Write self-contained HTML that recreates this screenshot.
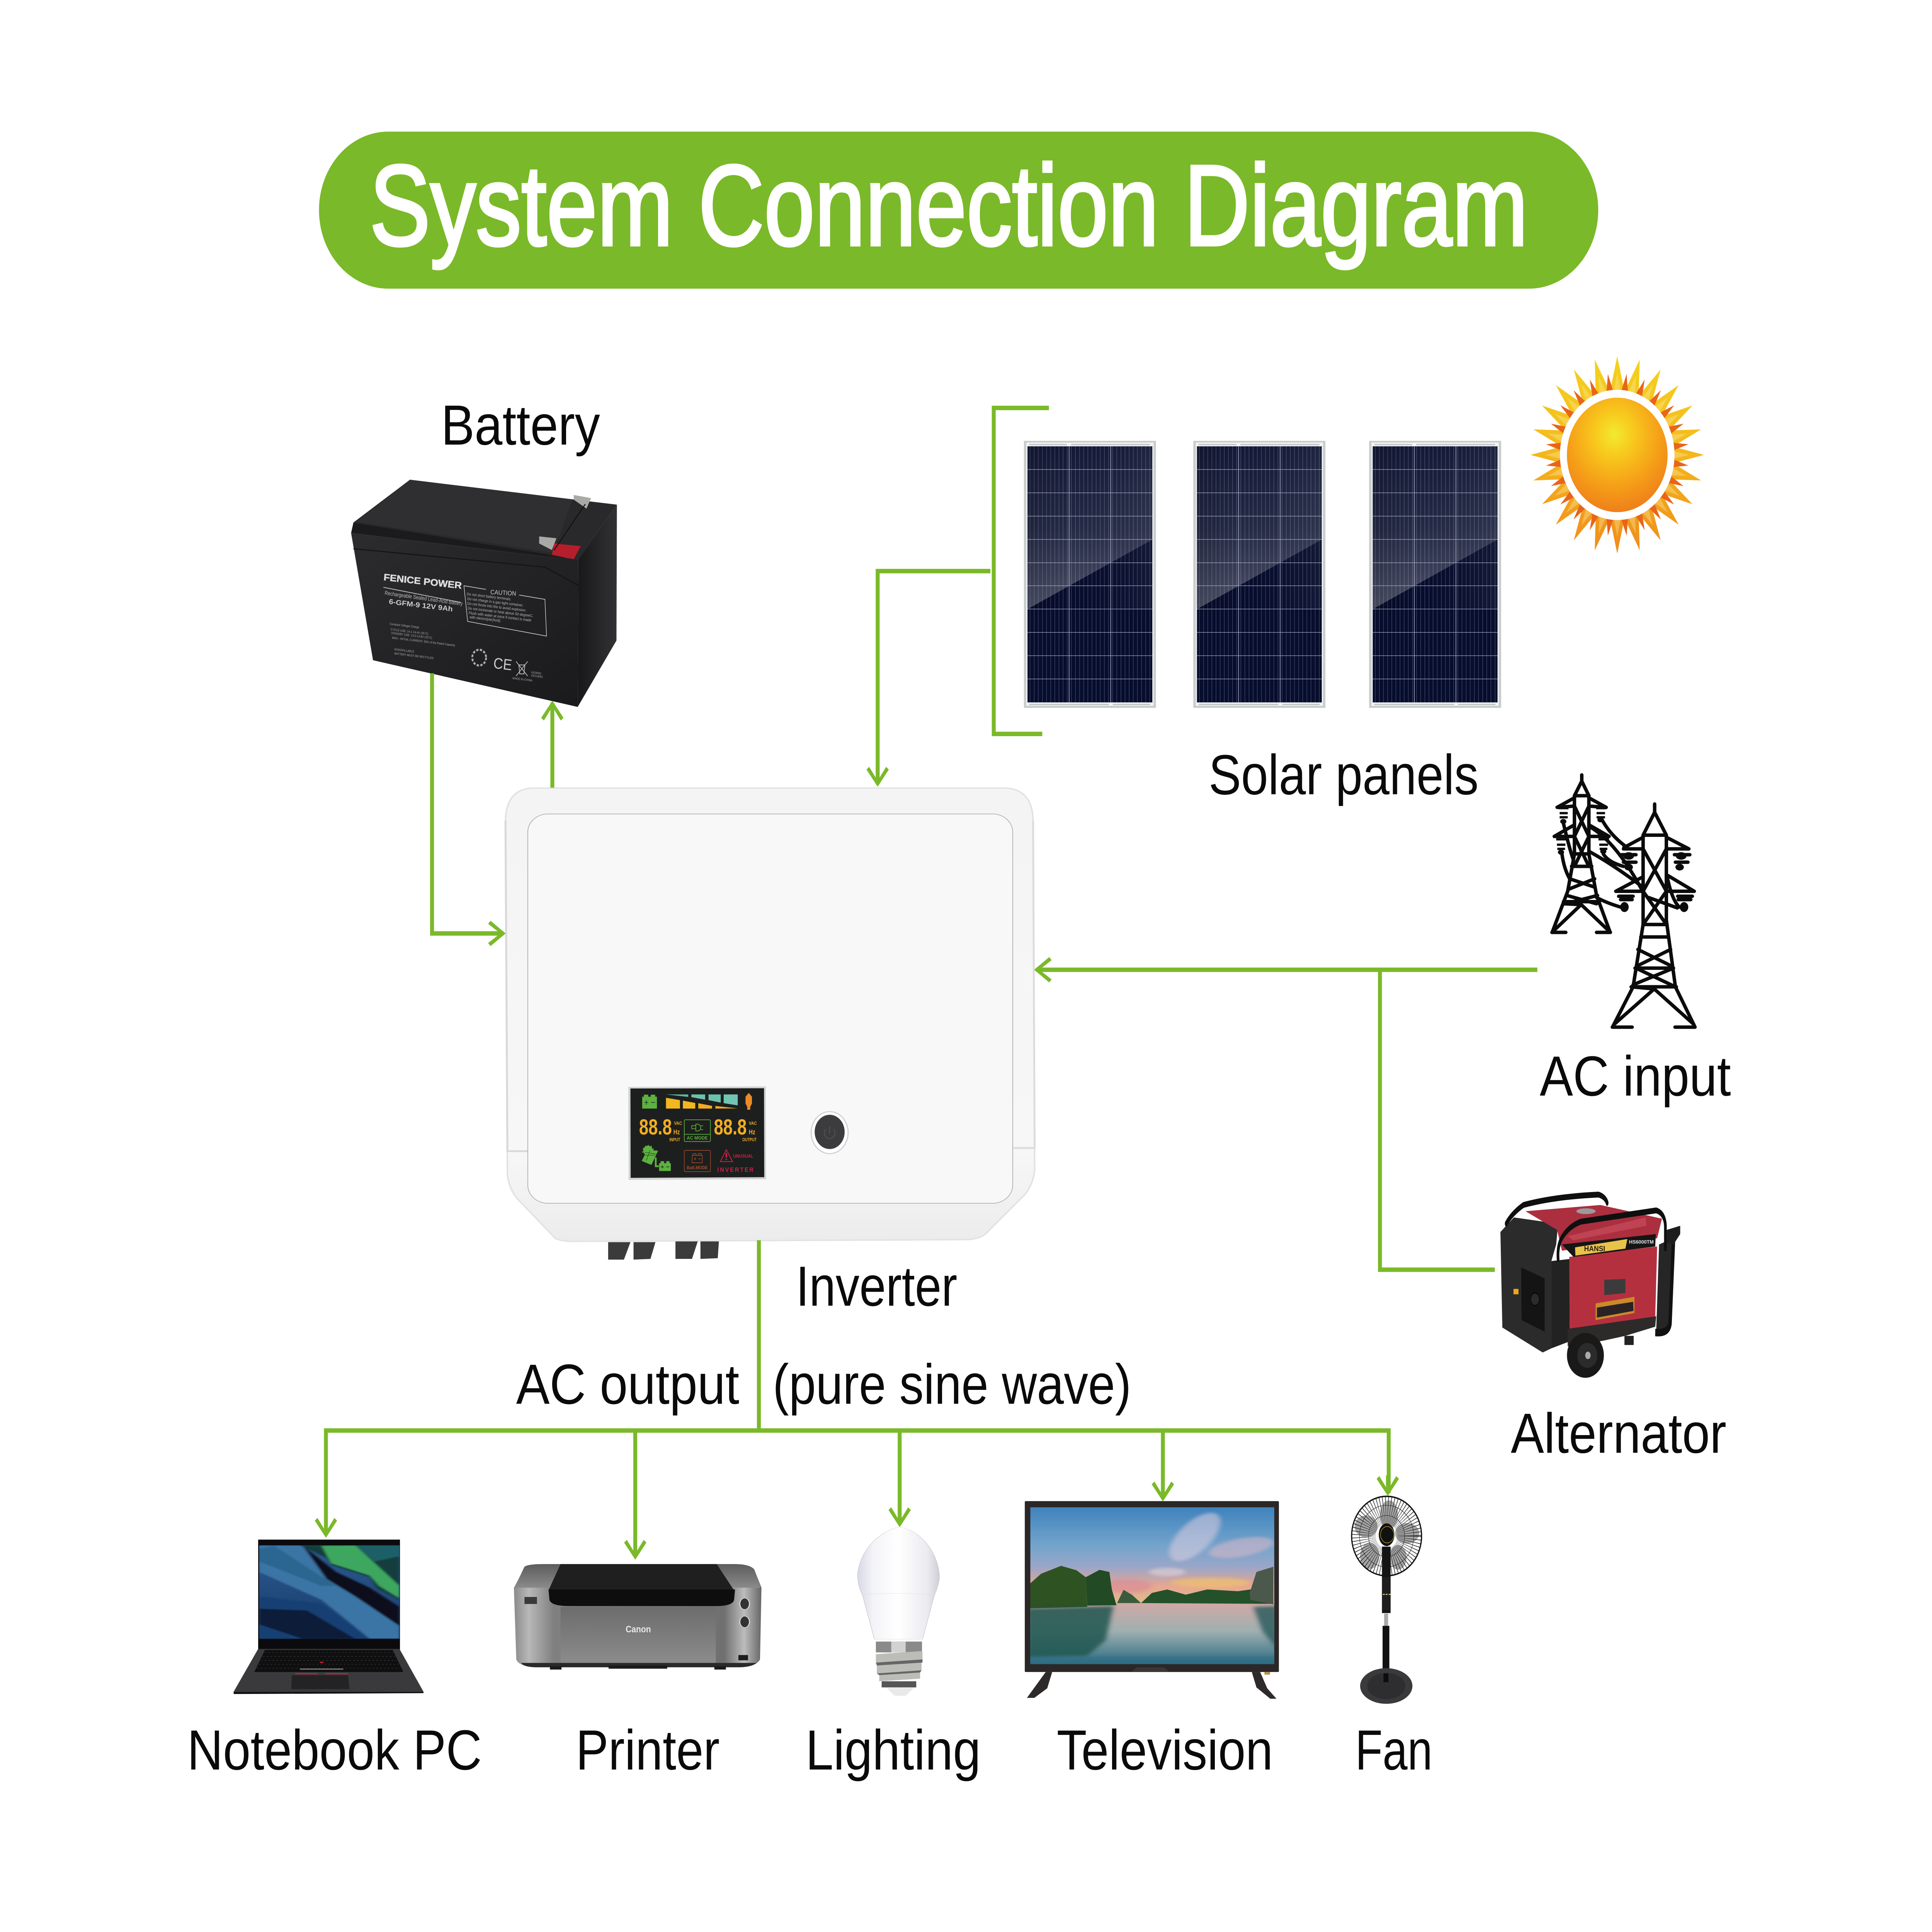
<!DOCTYPE html>
<html><head><meta charset="utf-8"><title>System Connection Diagram</title>
<style>
html,body{margin:0;padding:0;background:#fff;width:100%;height:100%;overflow:hidden}
svg{display:block;width:100vw;height:100vh}
text{font-family:"Liberation Sans",sans-serif}
.lb{font-size:165px;fill:#0a0a0a}
.g{stroke:#7ab929;stroke-width:13;fill:none}
.n{vector-effect:non-scaling-stroke}
.t{fill:none;stroke:#0b0b0b;stroke-width:9;stroke-linejoin:round;stroke-linecap:round}
.t2{fill:none;stroke:#0b0b0b;stroke-width:6}
</style></head><body>
<svg xmlns="http://www.w3.org/2000/svg" viewBox="0 0 6408 5636" preserveAspectRatio="none">
<defs>
<polygon id="ah" fill="#7ab929" points="0,0 -37,-50 -28,-58 -6,-26 -6,-60 6,-60 6,-26 28,-58 37,-50"/>
<pattern id="strip" width="13.7" height="40" patternUnits="userSpaceOnUse"><rect width="13.7" height="40" fill="none"/><rect x="6" width="1.4" height="40" fill="#8e96b5" opacity=".5"/></pattern>
<linearGradient id="refl" x1="0" y1="0" x2="0" y2="1"><stop offset="0" stop-color="#fff" stop-opacity=".05"/><stop offset=".5" stop-color="#fff" stop-opacity=".12"/><stop offset="1" stop-color="#fff" stop-opacity=".28"/></linearGradient>
<linearGradient id="refl2" x1="0" y1="0" x2="1" y2="0"><stop offset="0" stop-color="#000" stop-opacity=".12"/><stop offset=".35" stop-color="#000" stop-opacity="0"/><stop offset="1" stop-color="#fff" stop-opacity=".05"/></linearGradient>
<g id="panel">
<rect width="438" height="779" fill="#c9cdcd"/>
<rect x="8" y="5" width="422" height="768" fill="#f3f4f4"/>
<rect x="17" y="9" width="126" height="4" fill="#c2c6c6"/><rect x="156" y="9" width="262" height="4" fill="#c2c6c6"/>
<rect x="17" y="767" width="265" height="4" fill="#c2c6c6"/><rect x="295" y="767" width="124" height="4" fill="#c2c6c6"/>
<rect x="12" y="16" width="414" height="747" fill="#070d2c"/>
<rect x="12" y="16" width="414" height="747" fill="url(#strip)"/>
<polygon points="12,16 426,16 426,288 12,491" fill="url(#refl)"/>
<rect x="12" y="16" width="414" height="475" fill="url(#refl2)"/>
<g fill="#a8aec4">
<rect x="12" y="83" width="414" height="1.4"/><rect x="12" y="151" width="414" height="1.4"/><rect x="12" y="219" width="414" height="1.4"/><rect x="12" y="287" width="414" height="1.4"/><rect x="12" y="355" width="414" height="1.4"/><rect x="12" y="422" width="414" height="1.4"/><rect x="12" y="490" width="414" height="1.4"/><rect x="12" y="558" width="414" height="1.4"/><rect x="12" y="626" width="414" height="1.4"/><rect x="12" y="694" width="414" height="1.4"/>
<rect x="149" y="16" width="2" height="747"/><rect x="287" y="16" width="2" height="747"/></g>
</g>
<linearGradient id="sunG" x1="0" y1="0" x2="0" y2="1"><stop offset="0" stop-color="#f3d31f"/><stop offset=".45" stop-color="#f4bb1c"/><stop offset="1" stop-color="#ef8a1c"/></linearGradient>
<radialGradient id="disk" cx=".47" cy=".32" r=".72"><stop offset="0" stop-color="#f2ea2e"/><stop offset=".3" stop-color="#f8c51c"/><stop offset=".65" stop-color="#f59d18"/><stop offset="1" stop-color="#ee7a1b"/></radialGradient>
<polygon id="r1" points="0,-288 -30,-160 30,-160"/>
<g id="r3"><use href="#r1"/><use href="#r1" transform="rotate(15)"/><use href="#r1" transform="rotate(30)"/><use href="#r1" transform="rotate(45)"/></g>
<g id="r24"><use href="#r3"/><use href="#r3" transform="rotate(60)"/><use href="#r3" transform="rotate(120)"/><use href="#r3" transform="rotate(180)"/><use href="#r3" transform="rotate(240)"/><use href="#r3" transform="rotate(300)"/></g>
<polygon id="s1" points="0,-238 -17,-160 17,-160"/>
<g id="s3"><use href="#s1"/><use href="#s1" transform="rotate(15)"/><use href="#s1" transform="rotate(30)"/><use href="#s1" transform="rotate(45)"/></g>
<g id="s24"><use href="#s3"/><use href="#s3" transform="rotate(60)"/><use href="#s3" transform="rotate(120)"/><use href="#s3" transform="rotate(180)"/><use href="#s3" transform="rotate(240)"/><use href="#s3" transform="rotate(300)"/></g>
<mask id="rayM" maskUnits="userSpaceOnUse" x="-300" y="-300" width="600" height="600"><use href="#r24" fill="#fff"/></mask>
<linearGradient id="bodyV" x1="0" y1="0" x2="0" y2="1"><stop offset="0" stop-color="#f4f4f4"/><stop offset=".8" stop-color="#f7f7f7"/><stop offset="1" stop-color="#ececec"/></linearGradient>
<linearGradient id="batR" x1="0" y1="0" x2="1" y2="0"><stop offset="0" stop-color="#18181a"/><stop offset="1" stop-color="#323234"/></linearGradient>
<linearGradient id="batF" x1="0" y1="0" x2="1" y2="1"><stop offset="0" stop-color="#2c2c2e"/><stop offset="1" stop-color="#1a1a1c"/></linearGradient>
<linearGradient id="metal" x1="0" y1="0" x2="1" y2="0"><stop offset="0" stop-color="#8a8a8a"/><stop offset=".06" stop-color="#b8b8b8"/><stop offset=".16" stop-color="#808080"/><stop offset=".85" stop-color="#707070"/><stop offset=".93" stop-color="#bcbcbc"/><stop offset="1" stop-color="#666"/></linearGradient>
<linearGradient id="front" x1="0" y1="0" x2="0" y2="1"><stop offset="0" stop-color="#6d6d6d"/><stop offset=".5" stop-color="#7c7c7c"/><stop offset="1" stop-color="#8c8c8c"/></linearGradient>
<linearGradient id="ptop" x1="0" y1="0" x2="0" y2="1"><stop offset="0" stop-color="#5c5c5c"/><stop offset="1" stop-color="#8a8a8a"/></linearGradient>
<linearGradient id="bulb" x1="0" y1="0" x2="1" y2="0"><stop offset="0" stop-color="#d9d9e6"/><stop offset=".2" stop-color="#f4f4f8"/><stop offset=".5" stop-color="#fff"/><stop offset=".85" stop-color="#ebebf0"/><stop offset="1" stop-color="#cfcfd6"/></linearGradient>
<linearGradient id="sky" x1="0" y1="0" x2="0" y2="1"><stop offset="0" stop-color="#3f83bd"/><stop offset=".4" stop-color="#74a4cc"/><stop offset=".62" stop-color="#9aa6c8"/><stop offset=".82" stop-color="#e7a791"/><stop offset="1" stop-color="#dcbd8c"/></linearGradient>
<linearGradient id="water" x1="0" y1="0" x2="0" y2="1"><stop offset="0" stop-color="#cfa9a6"/><stop offset=".45" stop-color="#9fb0b0"/><stop offset="1" stop-color="#2d6c83"/></linearGradient>
<linearGradient id="wall" x1="0" y1="0" x2="0" y2="1"><stop offset="0" stop-color="#2c5c92"/><stop offset="1" stop-color="#173a68"/></linearGradient>
<filter id="b8" x="-30%" y="-30%" width="160%" height="160%"><feGaussianBlur stdDeviation="8"/></filter>
<filter id="b3" x="-10%" y="-10%" width="120%" height="120%"><feGaussianBlur stdDeviation="3"/></filter>
<clipPath id="lapC"><rect x="100" y="408" width="292" height="534"/></clipPath>
<clipPath id="tvC"><rect x="115" y="190" width="793" height="897"/></clipPath>
</defs>

<!-- Title -->
<rect x="1058" y="384" width="4243" height="458" rx="229" fill="#7ab929"/>
<text x="1226" y="715" font-size="335" fill="#fff" stroke="#fff" stroke-width="8" textLength="3842" lengthAdjust="spacingAndGlyphs">System Connection Diagram</text>

<!-- Battery -->
<g transform="translate(1000,1000) scale(.7653)">
<polygon points="470,522 1367,617 1200,825 1060,812 225,685" fill="#29292b"/>
<polygon points="470,522 1175,597 1090,800 240,682" fill="#2f2f31"/>
<polygon points="225,685 215,725 1055,815 1200,830 1060,805" fill="#1b1b1d"/>
<polygon points="215,725 1055,815 1060,812 1200,825 1197,1388 310,1210" fill="url(#batF)"/>
<polygon points="1200,825 1367,617 1365,1135 1197,1388" fill="url(#batR)"/>
<polyline points="225,785 1055,855 1200,925" fill="none" stroke="#141415" stroke-width="4"/>
<polygon points="1095,765 1210,775 1180,825 1085,808" fill="#b51e2a"/>
<polygon points="1030,738 1105,745 1085,790 1030,765" fill="#a9a9a6"/>
<polygon points="1180,580 1255,592 1235,632 1180,598" fill="#a9a9a6"/>
<line x1="1230" y1="615" x2="1095" y2="790" stroke="#111" stroke-width="4"/>
<text x="355" y="905" transform="rotate(5.5 355 905)" font-size="36" font-weight="700" fill="#dcdcdc" textLength="340" lengthAdjust="spacingAndGlyphs" stroke="#dcdcdc" stroke-width="1">FENICE POWER</text>
<line x1="355" y1="932" x2="692" y2="990" stroke="#bbb" stroke-width="3"/>
<text x="360" y="960" transform="rotate(7 360 960)" font-size="21" fill="#bbb" textLength="340" lengthAdjust="spacingAndGlyphs">Rechargeable Sealed Lead-Acid Battery</text>
<text x="378" y="995" transform="rotate(6 378 995)" font-size="27" font-weight="700" fill="#ccc" textLength="278" lengthAdjust="spacingAndGlyphs">6-GFM-9  12V 9Ah</text>
<polygon points="704,926 1055,978 1062,1118 720,1062" fill="none" stroke="#ccc" stroke-width="2.5"/>
<rect x="800" y="925" width="145" height="40" fill="#242426" transform="rotate(3 800 925)"/>
<text x="818" y="958" font-size="24" fill="#ccc" textLength="112" lengthAdjust="spacingAndGlyphs" transform="rotate(3 818 958)">CAUTION</text>
<g font-size="14.5" fill="#bbb">
<text x="716" y="962" transform="rotate(6 716 962)">Do not short battery terminals.</text>
<text x="718" y="980" transform="rotate(6 718 980)">Do not charge in a gas tight container.</text>
<text x="718" y="998" transform="rotate(6 718 998)">Do not throw into fire to avoid explosion.</text>
<text x="720" y="1016" transform="rotate(6 720 1016)">Do not incinerate or heat above 50 degreeC.</text>
<text x="724" y="1034" transform="rotate(6 724 1034)">Flush with water at once if contact is made</text>
<text x="728" y="1050" transform="rotate(6 728 1050)">with electrolyte(Acid).</text>
</g>
<g font-size="11.5" fill="#aaa">
<text x="382" y="1075" transform="rotate(6 382 1075)">Constant Voltage Charge</text>
<text x="386" y="1096" transform="rotate(6 386 1096)">CYCLE USE: 14.1-14.4V (25°C)</text>
<text x="388" y="1110" transform="rotate(6 388 1110)">STANDBY USE: 13.5-13.8V (25°C)</text>
<text x="392" y="1128" transform="rotate(6 392 1128)">MAX.- INITIAL CURRENT: 30% of the Rated Capacity</text>
<text x="402" y="1172" transform="rotate(6 402 1172)">NONSPILLABLE</text>
<text x="402" y="1188" transform="rotate(6 402 1188)">BATTERY MUST BE RECYCLED</text>
<text x="914" y="1282" transform="rotate(6 914 1282)">MADE IN CHINA</text>
<text x="995" y="1260" transform="rotate(6 995 1260)">ISO9001</text>
<text x="995" y="1272" transform="rotate(6 995 1272)">ISO14001</text>
</g>
<text x="830" y="1240" font-size="58" fill="#ccc" transform="rotate(6 830 1240)">CE</text>
<circle cx="770" cy="1200" r="30" fill="none" stroke="#aaa" stroke-width="8" stroke-dasharray="10 6"/>
<path d="M930,1215 L980,1270 M980,1215 L930,1270 M942,1228 H968 L964,1262 H946 Z" fill="none" stroke="#bbb" stroke-width="3"/>
</g>
<text class="lb" x="1463" y="1297" textLength="527" lengthAdjust="spacingAndGlyphs">Battery</text>

<!-- Panels + sun -->
<use href="#panel" x="3396" y="1286"/><use href="#panel" x="3958" y="1286"/><use href="#panel" x="4541" y="1286"/>
<g transform="translate(5364,1327)">
<rect x="-300" y="-300" width="600" height="600" fill="url(#sunG)" mask="url(#rayM)"/>
<use href="#s24" fill="#ffeeb0" opacity=".35"/>
<g transform="rotate(7.5)"><use href="#s24" fill="#e8651a"/></g>
<circle r="190" fill="#fff"/>
<circle r="167" fill="url(#disk)"/>
</g>

<!-- Inverter -->
<g transform="translate(1600,2200) scale(1.2755,1.0204)">
<path d="M130,97 H1360 Q1430,100 1432,190 L1436,1190 Q1432,1230 1410,1260 L1310,1370 Q1295,1386 1260,1388 L230,1393 Q205,1392 190,1385 L90,1270 Q68,1240 65,1200 L60,190 Q62,100 130,97 Z" fill="url(#bodyV)" stroke="#e2e2e2" stroke-width="4"/>
<path d="M60,190 L65,1135 H120" fill="none" stroke="#d8d8d8" stroke-width="5"/>
<path d="M1432,190 L1436,1126 H1380" fill="none" stroke="#dcdcdc" stroke-width="5"/>
<rect x="118" y="171" width="1261" height="1113" rx="52" fill="#f8f8f8" stroke="#b4b4b4" stroke-width="2"/>
<polygon points="327,1395 385,1395 368,1445 327,1445" fill="#3b3b3b"/>
<polygon points="393,1395 450,1395 437,1443 393,1445" fill="#3b3b3b"/>
<polygon points="502,1393 560,1393 545,1443 502,1443" fill="#3b3b3b"/>
<polygon points="567,1393 615,1393 612,1441 567,1443" fill="#3b3b3b"/>
<ellipse cx="903" cy="1082" rx="48" ry="60" fill="#fff" stroke="#cfcfcf" stroke-width="3"/>
<ellipse cx="903" cy="1080" rx="39" ry="49" fill="#3c3c3e"/>
<path d="M893,1072 a14,16 0 1 0 20,0 M903,1064 V1084" fill="none" stroke="#555" stroke-width="2"/>
</g>

<!-- LCD -->
<g transform="translate(2050,3150) scale(.357,.3333)">
<polygon points="95,62 1372,58 1374,870 98,876" fill="#d2d2d2"/>
<polygon points="115,76 1356,74 1358,852 117,858" fill="#1d1f1e"/>
<g fill="#5cb23f">
<path d="M224,148 H240 V130 H280 V148 H304 V130 H345 V148 H361 V252 H224 Z"/>
<path d="M381,730 H395 V712 H428 V730 H448 V712 H478 V730 H490 V798 H381 Z"/>
<polygon points="270,615 372,620 310,745 220,710"/>
<circle cx="278" cy="620" r="44"/>
<polygon points="342,680 358,680 358,748 378,748 378,764 342,764"/>
<g><polygon points="282,565 290,590 274,590"/><polygon points="255,572 270,592 250,598"/><polygon points="310,572 298,592 315,598"/><polygon points="232,592 250,606 232,616"/><polygon points="330,596 316,612 330,618"/><polygon points="224,625 240,632 226,640"/></g>
</g>
<path d="M245,198 H280 M262,180 V218 M308,198 H344 M398,762 H425 M411,750 V776 M448,762 H476" stroke="#1d1f1e" stroke-width="5"/>
<path d="M250,660 L340,660 M296,618 L262,706 M248,635 L355,650" stroke="#1d1f1e" stroke-width="3"/>
<polygon points="445,128 652,128 652,150" fill="#5fb7a0"/>
<polygon points="681,128 809,128 809,174 681,152" fill="#6cc0ad"/>
<polygon points="840,128 954,128 954,200 840,178" fill="#6cc0ad"/>
<polygon points="981,128 1112,128 1112,224 981,204" fill="#72c4b3"/>
<polygon points="445,157 575,178 575,252 445,252" fill="#f3b81f"/>
<polygon points="602,182 717,203 717,252 602,252" fill="#f3b81f"/>
<polygon points="745,205 873,228 873,252 745,252" fill="#f3a91f"/>
<polygon points="904,229 1112,250 904,252" fill="#f3a91f"/>
<path d="M1200,130 L1214,114 L1228,130 L1244,148 V208 L1228,236 V262 H1200 V236 L1184,208 V148 Z" fill="#ec8a24"/>
<g fill="#f3ad22" font-weight="700">
<text x="195" y="478" font-size="190" textLength="305" lengthAdjust="spacingAndGlyphs">88.8</text>
<text x="890" y="478" font-size="190" textLength="305" lengthAdjust="spacingAndGlyphs">88.8</text>
<text x="520" y="394" font-size="42" textLength="74" lengthAdjust="spacingAndGlyphs">VAC</text>
<text x="1215" y="394" font-size="42" textLength="74" lengthAdjust="spacingAndGlyphs">VAC</text>
<text x="514" y="476" font-size="60" textLength="60" lengthAdjust="spacingAndGlyphs">Hz</text>
<text x="1215" y="476" font-size="60" textLength="60" lengthAdjust="spacingAndGlyphs">Hz</text>
<text x="477" y="538" font-size="40" textLength="100" lengthAdjust="spacingAndGlyphs">INPUT</text>
<text x="1155" y="538" font-size="40" textLength="132" lengthAdjust="spacingAndGlyphs">OUTPUT</text>
</g>
<rect x="615" y="350" width="243" height="190" rx="10" fill="none" stroke="#5cb23f" stroke-width="6"/>
<line x1="615" y1="477" x2="858" y2="477" stroke="#5cb23f" stroke-width="6"/>
<path d="M722,402 H684 V428 H722 M722,388 H745 Q768,400 768,420 Q768,440 745,448 H722 Z M768,402 H790 M768,436 H790" fill="none" stroke="#5cb23f" stroke-width="6"/>
<text x="638" y="522" font-size="42" font-weight="700" fill="#5cb23f" textLength="195" lengthAdjust="spacingAndGlyphs">AC MODE</text>
<rect x="615" y="618" width="243" height="186" rx="8" fill="none" stroke="#a5502e" stroke-width="5"/>
<path d="M688,662 H782 V726 H688 Z M696,662 V646 H724 V662 M746,662 V646 H774 V662 M704,692 H726 M715,681 V703 M746,692 H770" fill="none" stroke="#a5502e" stroke-width="5"/>
<text x="638" y="782" font-size="40" fill="#a5502e" font-weight="700" textLength="195" lengthAdjust="spacingAndGlyphs">Batt.MODE</text>
<polygon points="1006,612 1064,716 950,716" fill="none" stroke="#d21f4a" stroke-width="7"/>
<path d="M1006,640 V682 M1006,692 V702" stroke="#d21f4a" stroke-width="14"/>
<text x="1070" y="682" font-size="40" font-weight="700" fill="#d21f4a" textLength="186" lengthAdjust="spacingAndGlyphs">UNUSUAL</text>
<text x="922" y="804" font-size="52" font-weight="700" fill="#d21f4a" textLength="336" lengthAdjust="spacing">INVERTER</text>
</g>

<!-- Towers -->
<g transform="translate(4900,2200) scale(.6378,1.2121)">
<path class="t n" d="M543,50 V65 L505,100 V240 L470,330 L390,428 M543,65 L580,100 V240 L620,340 L690,428"/>
<path class="t n" d="M388,429 H460 M620,429 H692 M505,100 H580 M505,125 L415,128 L505,105 M580,125 L670,128 L580,105 M505,198 L400,198 L505,170 M580,198 L685,198 L580,170 M505,240 H580 M505,125 L580,198 M580,125 L505,198 M505,198 L580,270 M580,198 L505,270 M490,270 H595 M480,300 L610,320 M610,300 L475,325 M465,340 L620,360 M625,340 L460,360 M448,355 H635 M448,360 L540,362 L390,428 M540,362 L690,428"/>
<path class="t2 n" d="M422,130 H474 M428,142 H470 M428,152 H470 M618,130 H670 M620,142 H664 M620,152 H664 M410,205 H462 M414,218 H458 M416,228 H456 M630,205 H685 M634,218 H680 M636,228 H676"/>
<g fill="#0b0b0b"><ellipse cx="447" cy="162" rx="16" ry="6"/><ellipse cx="640" cy="158" rx="16" ry="6"/><ellipse cx="435" cy="236" rx="16" ry="6"/><ellipse cx="655" cy="234" rx="16" ry="6"/></g>
<path class="t n" d="M645,155 Q690,195 780,225 M447,165 Q480,230 500,255 M440,240 Q450,275 480,300 M655,240 Q680,260 760,270 M585,175 Q720,210 860,330 M585,235 Q720,270 860,320 M620,345 Q680,360 760,370"/>
<path class="t n" d="M922,120 V140 L862,195 V410 L810,560 L705,655 M922,140 L983,195 V400 L1030,560 L1130,655 M702,657 H805 M1028,657 H1132"/>
<path class="t n" d="M862,195 H983 M862,200 L762,225 M862,228 H760 M983,200 L1100,228 M983,228 H1100 M862,295 L720,330 M862,330 H720 M983,290 L1128,330 M983,330 H1128 M862,228 L983,330 M983,228 L862,330 M862,330 L983,410 M983,330 L862,410 M862,410 H983 M850,440 H995 M835,470 L1010,510 M1005,470 L830,510 M820,515 H1020 M1020,515 L810,555 M825,515 L1030,560 M800,560 H1035 M800,560 L920,565 L712,650 M920,565 L1125,650"/>
<path class="t n" d="M760,260 H825 M1030,260 H1095 M745,350 H805 M1045,350 H1110 M750,242 H825 M1025,242 H1105 M735,342 H810 M1042,342 H1118"/>
<g fill="#0b0b0b"><ellipse cx="787" cy="245" rx="28" ry="9"/><ellipse cx="787" cy="272" rx="22" ry="8"/><ellipse cx="1060" cy="245" rx="28" ry="9"/><ellipse cx="1052" cy="272" rx="22" ry="8"/><ellipse cx="765" cy="368" rx="22" ry="12"/><ellipse cx="1075" cy="368" rx="22" ry="12"/></g>
<path class="t n" d="M985,290 Q1010,350 1050,368 M890,345 L1040,370"/>

<!-- Generator -->
<polygon points="120,1150 190,1115 420,1130 410,1180 385,1220 385,1430 340,1440 130,1380" fill="#2b2b2c"/>
<polygon points="385,1220 480,1215 480,1385 470,1415 385,1430" fill="#222"/>
<polygon points="250,1100 640,1085 960,1118 935,1165 440,1195 415,1145" fill="#ab2f3f"/>
<polygon points="470,1160 875,1115 880,1135 500,1170" fill="#bf4352"/>
<ellipse cx="565" cy="1100" rx="50" ry="7" fill="#9a9a9a"/>
<polygon points="478,1210 935,1185 925,1355 480,1385" fill="#b5303f"/>
<polygon points="470,1383 930,1353 925,1378 770,1400 650,1412 470,1425" fill="#2d2a2a"/>
<polygon points="440,1180 928,1155 925,1185 500,1210" fill="#151515"/>
<polygon points="508,1187 780,1167 770,1190 510,1207" fill="#e8c34a"/>
<polygon points="228,1235 350,1262 350,1390 230,1362" fill="#141414"/>
<ellipse cx="300" cy="1312" rx="22" ry="15" fill="#2b2b2c" stroke="#000" stroke-width="2"/>
<rect x="188" y="1287" width="26" height="13" fill="#eaa81d"/>
<polygon points="660,1265 770,1263 770,1297 660,1302" fill="#3b3b3b"/>
<polygon points="615,1322 817,1306 817,1345 615,1362" fill="#c98a28"/>
<polygon points="622,1332 810,1318 812,1340 622,1356" fill="#2b2225"/>
<polygon points="945,1180 1020,1165 1005,1375 960,1395 930,1390" fill="#262626"/>
<path d="M150,1130 Q180,1105 240,1085 Q400,1065 630,1060 Q665,1065 675,1080 M420,1215 Q415,1180 445,1160 Q480,1135 540,1125 L930,1098 Q975,1105 978,1135 L978,1190" fill="none" stroke="#0f0f0f" stroke-width="14" stroke-linecap="round"/>
<path d="M1020,1170 L1002,1370 Q995,1395 925,1392" fill="none" stroke="#111" stroke-width="18"/>
<polygon points="985,1145 1055,1135 1055,1155 1020,1180 985,1175" fill="#1d1d1d"/>
<ellipse cx="562" cy="1447" rx="96" ry="54" fill="#191919"/>
<ellipse cx="572" cy="1447" rx="52" ry="30" fill="#2b2b2b"/>
<ellipse cx="575" cy="1447" rx="14" ry="9" fill="#aaa"/>
<rect x="765" y="1400" width="48" height="22" fill="#222"/>
</g>
<text x="5254" y="3650" font-size="22" font-family="Liberation Serif" font-weight="700" fill="#2a1a10" textLength="70" lengthAdjust="spacingAndGlyphs">HANSI</text>
<text x="5403" y="3628" font-size="15" font-weight="700" fill="#e8e8e8" textLength="82" lengthAdjust="spacingAndGlyphs">HS6000TM</text>

<!-- Laptop -->
<g transform="translate(700,4300) scale(1.5944,.5102)">
<rect x="98" y="375" width="295" height="630" fill="#0b0b0d"/>
<rect x="100" y="408" width="292" height="534" fill="url(#wall)"/>
<g clip-path="url(#lapC)"><g filter="url(#b3)">
<polygon points="100,408 190,408 300,700 392,860 392,942 330,942 230,720 100,560" fill="#3a75a5"/>
<polygon points="100,430 130,408 260,640 230,640 100,500" fill="#2c6690"/>
<polygon points="190,408 260,560 330,650 392,760 392,870 300,700 240,600" fill="#08111f"/>
<polygon points="185,408 392,408 392,720 345,655 330,590 250,520 240,480" fill="#123c3c"/>
<polygon points="230,410 300,408 392,640 392,710 350,640 330,580 250,510" fill="#3ea75e"/>
<polygon points="300,408 392,408 392,470 340,500" fill="#1b5e66"/>
<polygon points="100,700 230,740 330,942 100,942" fill="#153f73"/>
<polygon points="100,770 200,780 300,942 190,942 100,860" fill="#0d1e39"/>
</g></g>
<polygon points="98,1000 392,1000 442,1245 47,1245" fill="#3a3a3c"/>
<polygon points="47,1245 442,1245 442,1253 47,1258" fill="#111"/>
<polygon points="112,1006 378,1006 400,1132 90,1132" fill="#0f0f10"/>
<g stroke="#6a6a6a" stroke-width="1.5" stroke-dasharray="3 5" fill="none">
<line x1="112" y1="1020" x2="378" y2="1020"/><line x1="108" y1="1043" x2="382" y2="1043"/><line x1="104" y1="1066" x2="386" y2="1066"/><line x1="100" y1="1088" x2="390" y2="1088"/><line x1="96" y1="1110" x2="394" y2="1110"/>
</g>
<rect x="185" y="1112" width="90" height="7" fill="#777"/>
<circle cx="230" cy="1077" r="4" fill="#d61f2c"/>
<rect x="175" y="1139" width="47" height="6" fill="#c9202c"/><rect x="238" y="1139" width="47" height="6" fill="#c9202c"/>
<polygon points="168,1150 285,1150 288,1230 167,1230" fill="#232325"/>
</g>

<!-- Printer -->
<g transform="translate(700,4300) scale(1.5944,.5102)">
<path d="M630,650 Q640,600 650,540 Q660,515 690,515 H1090 Q1120,515 1130,545 L1145,650 L1142,1060 Q1135,1100 1100,1105 H675 Q640,1100 635,1060 Z" fill="url(#metal)"/>
<path d="M652,530 Q660,515 690,515 H1090 Q1120,515 1130,545 L1143,650 H632 Z" fill="url(#ptop)"/>
<polygon points="727,515 1052,515 1088,665 702,665" fill="#1f1f20"/>
<path d="M702,660 H1090 L1088,720 Q1085,755 1050,755 H745 Q708,755 704,720 Z" fill="#0e0e0f"/>
<rect x="727" y="760" width="323" height="325" fill="url(#front)"/>
<rect x="652" y="703" width="26" height="40" fill="#3a3a3a"/>
<ellipse cx="1110" cy="742" rx="10" ry="32" fill="#333" stroke="#ddd" stroke-width="2"/>
<ellipse cx="1110" cy="845" rx="10" ry="32" fill="#333" stroke="#ddd" stroke-width="2"/>
<rect x="1097" y="1035" width="20" height="30" fill="#1c1c1c"/>
<path d="M645,1080 H1135 Q1125,1103 1100,1105 H675 Q650,1103 645,1080 Z" fill="#2a2a2a"/>
<rect x="827" y="1095" width="122" height="18" fill="#1a1a1a"/>
<rect x="705" y="1100" width="24" height="18" fill="#1a1a1a"/><rect x="1047" y="1100" width="24" height="18" fill="#1a1a1a"/>
</g>
<text x="2075" y="4762" font-size="27" font-weight="700" fill="#e8e8e8" textLength="84" lengthAdjust="spacingAndGlyphs">Canon</text>

<!-- Bulb -->
<g transform="translate(700,4300) scale(1.5944,.5102)">
<path d="M1432,303 Q1470,320 1495,420 Q1516,510 1515,600 Q1512,650 1505,690 L1480,945 H1380 L1355,690 Q1345,640 1345,570 Q1350,460 1380,380 Q1405,315 1432,303 Z" fill="url(#bulb)" stroke="#c5c5cc" stroke-width="1"/>
<path d="M1352,690 Q1430,675 1508,690" fill="none" stroke="#e0e0e6" stroke-width="2"/>
<rect x="1383" y="958" width="96" height="62" fill="#8a8a8a"/><rect x="1415" y="958" width="30" height="62" fill="#d2d2d2"/>
<g fill="#bdbdb8"><polygon points="1383,1030 1480,1012 1480,1060 1383,1078"/><polygon points="1385,1095 1478,1078 1478,1122 1385,1140"/><polygon points="1390,1150 1475,1135 1475,1170 1390,1185"/></g>
<g fill="#666"><polygon points="1383,1078 1480,1060 1480,1078 1385,1095"/><polygon points="1385,1140 1478,1122 1475,1135 1390,1150"/></g>
<rect x="1395" y="1185" width="72" height="35" fill="#555"/>
<polygon points="1405,1222 1462,1222 1445,1268 1422,1268" fill="#e9e9e9"/>
</g>

<!-- TV -->
<g transform="translate(3300,4300) scale(1.0204,.5102)">
<rect x="97" y="155" width="826" height="977" rx="4" fill="#2b2727"/>
<g clip-path="url(#tvC)">
<rect x="115" y="190" width="793" height="552" fill="url(#sky)"/>
<rect x="115" y="742" width="793" height="345" fill="url(#water)"/>
<g filter="url(#b8)" opacity=".55"><ellipse cx="650" cy="360" rx="60" ry="150" fill="#e0cfe0" transform="rotate(25 650 360)"/><ellipse cx="800" cy="420" rx="110" ry="50" fill="#dcb8c8" transform="rotate(-20 800 420)"/><ellipse cx="700" cy="620" rx="130" ry="28" fill="#f6c860"/><ellipse cx="560" cy="560" rx="60" ry="24" fill="#e6d8dc"/><ellipse cx="430" cy="640" rx="80" ry="40" fill="#d88898"/></g>
<polygon points="115,625 150,570 215,525 265,550 295,590 300,760 115,768" fill="#2f5222"/>
<polygon points="295,590 340,548 372,560 380,660 395,750 300,752" fill="#214a25"/>
<polygon points="397,738 418,662 445,690 475,738" fill="#3b5b3d"/>
<polygon points="475,738 510,680 560,660 620,690 690,660 790,670 830,660 905,650 905,742" fill="#24502a"/>
<polygon points="828,680 850,560 905,530 905,745 830,720" fill="#4b584c"/>
<g filter="url(#b8)">
<polygon points="105,768 385,755 360,950 300,1040 105,1045" fill="#1e5650" opacity=".85"/>
<polygon points="840,760 918,755 918,1000 870,900" fill="#24575a" opacity=".8"/>
<rect x="105" y="1045" width="813" height="50" fill="#2d6c83" opacity=".6"/>
</g>
</g>
<path d="M460,1105 H550 L565,1130 H445 Z" fill="#3c3737"/>
<path d="M165,1132 H186 L170,1225 L128,1280 H104 Z" fill="#2e2a2a"/>
<path d="M835,1132 H862 L885,1225 L915,1285 H895 L850,1220 Z" fill="#2e2a2a"/>
<rect x="876" y="1132" width="18" height="15" fill="#b89048"/>
</g>

<!-- Fan -->
<g transform="translate(4599,4481)">
<g fill="#a6a6a6"><ellipse cx="8" cy="-62" rx="30" ry="42"/><ellipse cx="68" cy="-8" rx="40" ry="30"/><ellipse cx="-68" cy="-28" rx="38" ry="32"/><ellipse cx="-56" cy="58" rx="32" ry="38"/><ellipse cx="38" cy="62" rx="28" ry="36"/></g>
<circle r="75" fill="none" stroke="#161616" stroke-width="78" stroke-dasharray="1.5 5.5" opacity=".85"/>
<circle r="116" fill="none" stroke="#111" stroke-width="4"/>
<circle r="90" fill="none" stroke="#333" stroke-width="1.5"/>
<circle r="60" fill="none" stroke="#333" stroke-width="1.5"/>
<ellipse cx="0" cy="-4" rx="26" ry="33" fill="#111"/>
<ellipse cx="2" cy="-4" rx="22" ry="24" fill="#111" stroke="#d6b024" stroke-width="1.5"/>
</g>
<g transform="translate(3300,4300) scale(1.0204,.5102)">
<rect x="1258" y="415" width="28" height="380" fill="#141414"/>
<rect x="1260" y="590" width="26" height="190" fill="#1e1e1e"/>
<g fill="#d8c98c"><circle cx="1264" cy="688" r="3.5"/><circle cx="1273" cy="688" r="3.5"/><circle cx="1283" cy="688" r="3.5"/></g>
<rect x="1265" y="798" width="13" height="70" fill="#aaa"/>
<rect x="1260" y="868" width="22" height="320" fill="#111"/>
<ellipse cx="1272" cy="1212" rx="85" ry="102" fill="#3a3a3c"/>
<ellipse cx="1272" cy="1212" rx="62" ry="75" fill="#2e2e30"/>
<rect x="1263" y="1140" width="16" height="50" fill="#0c0c0c"/>
</g>

<!-- Connectors -->
<g class="g">
<path d="M1433,1964 V2723 H1670"/>
<path d="M1832,2050 V2298"/>
<path d="M3479,1190 H3296 V2141 H3457"/>
<path d="M3285,1666 H2911 V2288"/>
<path d="M5099,2829 H3436"/>
<path d="M4577,2829 V3704 H4958"/>
<path d="M2517,3618 V4173"/>
<path d="M1081,4478 V4173 H4606 V4356"/>
<path d="M2107,4173 V4542"/>
<path d="M2984,4173 V4447"/>
<path d="M3857,4173 V4372"/>
</g>
<use href="#ah" transform="translate(1832,2044) rotate(180)"/>
<use href="#ah" transform="translate(1677,2723) rotate(-90)"/>
<use href="#ah" transform="translate(2911,2295)"/>
<use href="#ah" transform="translate(3430,2829) rotate(90)"/>
<use href="#ah" transform="translate(1081,4486)"/>
<use href="#ah" transform="translate(2107,4550)"/>
<use href="#ah" transform="translate(2984,4455)"/>
<use href="#ah" transform="translate(3857,4380)"/>
<use href="#ah" transform="translate(4603,4364)"/>

<!-- Labels -->
<text class="lb" x="4009" y="2317" textLength="895" lengthAdjust="spacingAndGlyphs">Solar panels</text>
<text class="lb" x="5107" y="3196" textLength="634" lengthAdjust="spacingAndGlyphs">AC input</text>
<text class="lb" x="5011" y="4238" textLength="715" lengthAdjust="spacingAndGlyphs">Alternator</text>
<text class="lb" x="2640" y="3809" textLength="535" lengthAdjust="spacingAndGlyphs">Inverter</text>
<text class="lb" x="1712" y="4095" textLength="740" lengthAdjust="spacingAndGlyphs">AC output</text>
<text class="lb" x="2563" y="4095" textLength="1189" lengthAdjust="spacingAndGlyphs">(pure sine wave)</text>
<text class="lb" x="621" y="5162" textLength="977" lengthAdjust="spacingAndGlyphs">Notebook PC</text>
<text class="lb" x="1910" y="5162" textLength="477" lengthAdjust="spacingAndGlyphs">Printer</text>
<text class="lb" x="2672" y="5162" textLength="581" lengthAdjust="spacingAndGlyphs">Lighting</text>
<text class="lb" x="3505" y="5162" textLength="717" lengthAdjust="spacingAndGlyphs">Television</text>
<text class="lb" x="4495" y="5162" textLength="256" lengthAdjust="spacingAndGlyphs">Fan</text>
</svg>
</body></html>
